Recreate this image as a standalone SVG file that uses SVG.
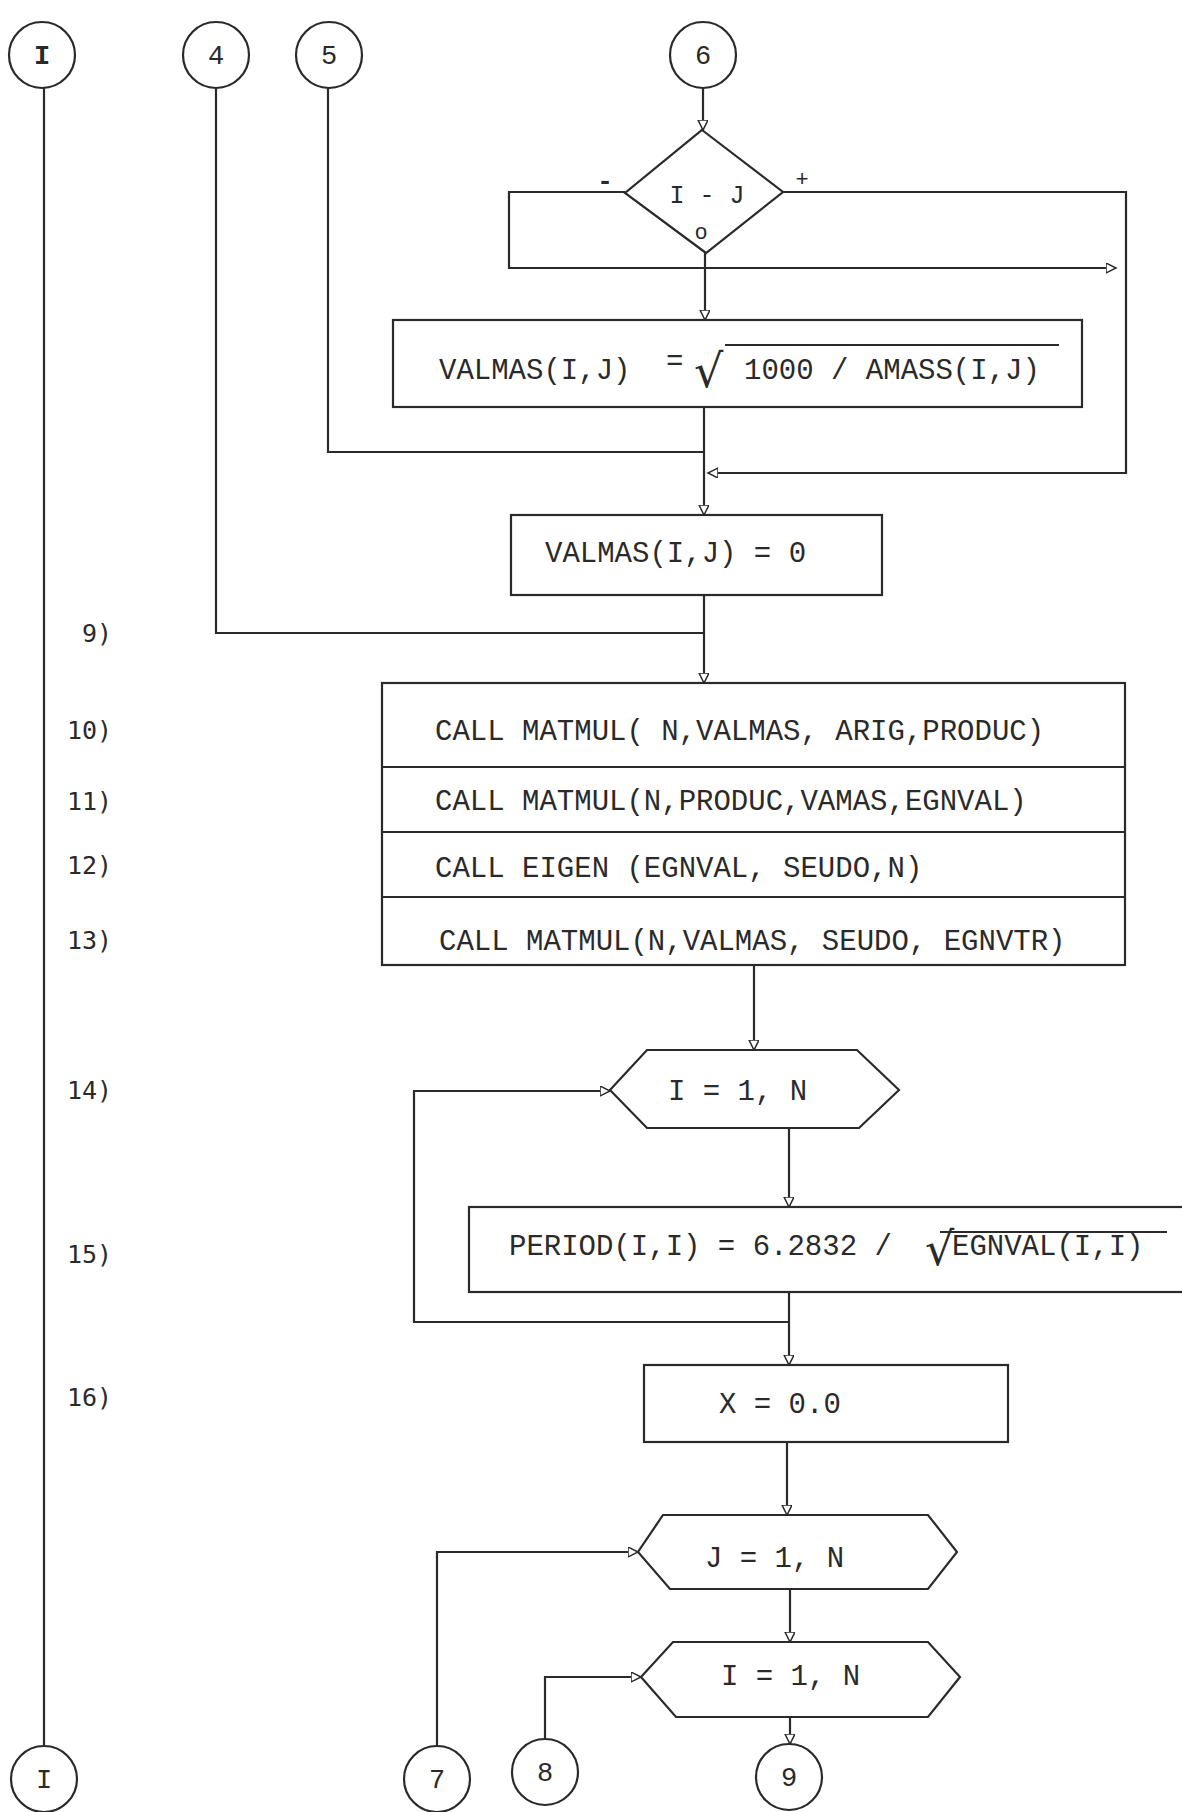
<svg xmlns="http://www.w3.org/2000/svg" width="1182" height="1812" viewBox="0 0 1182 1812">
<style>
.s{fill:none;stroke:#2a2a2a;stroke-width:2.2}
.n{fill:#fff;stroke:#2a2a2a;stroke-width:2.2}
.t{font-family:"Liberation Mono","DejaVu Sans Mono",monospace;font-size:29px;fill:#2a2a2a}
.l{font-family:"DejaVu Sans Mono","Liberation Mono",monospace;font-size:25px;fill:#2a2a2a}
.c{font-family:"Liberation Mono","DejaVu Sans Mono",monospace;font-size:27px;fill:#2a2a2a;text-anchor:middle}
.r{font-family:"DejaVu Sans","Liberation Sans",sans-serif;font-size:46px;fill:#2a2a2a}
</style>
<defs>
<marker id="a" markerWidth="12" markerHeight="12" refX="10" refY="5" orient="auto" markerUnits="userSpaceOnUse">
<path d="M0,0 L10,5 L0,10 z" fill="#fff" stroke="#2a2a2a" stroke-width="1.5"/>
</marker>
</defs>
<rect width="1182" height="1812" fill="#fff"/>

<g id="connectors">
<path class="s" d="M44,88 V1746"/>
<path class="s" d="M216,88 V633 H704"/>
<path class="s" d="M328,88 V452 H704"/>
<path class="s" d="M703,88 V130" marker-end="url(#a)"/>
<path class="s" d="M625,192 H509 V268 H1116" marker-end="url(#a)"/>
<path class="s" d="M783,192 H1126 V473 H708" marker-end="url(#a)"/>
<path class="s" d="M705,253 V320" marker-end="url(#a)"/>
<path class="s" d="M704,407 V515" marker-end="url(#a)"/>
<path class="s" d="M704,595 V683" marker-end="url(#a)"/>
<path class="s" d="M754,965 V1050" marker-end="url(#a)"/>
<path class="s" d="M789,1128 V1207" marker-end="url(#a)"/>
<path class="s" d="M789,1292 V1365" marker-end="url(#a)"/>
<path class="s" d="M789,1322 H414 V1091 H610" marker-end="url(#a)"/>
<path class="s" d="M787,1442 V1515" marker-end="url(#a)"/>
<path class="s" d="M790,1589 V1642" marker-end="url(#a)"/>
<path class="s" d="M790,1717 V1744" marker-end="url(#a)"/>
<path class="s" d="M437,1746 V1552 H638" marker-end="url(#a)"/>
<path class="s" d="M545,1739 V1677 H641" marker-end="url(#a)"/>
</g>

<g id="labels">
<text class="l" x="82" y="642">9)</text>
<text class="l" x="67" y="739">10)</text>
<text class="l" x="67" y="810">11)</text>
<text class="l" x="67" y="874">12)</text>
<text class="l" x="67" y="949">13)</text>
<text class="l" x="67" y="1099">14)</text>
<text class="l" x="67" y="1263">15)</text>
<text class="l" x="67" y="1406">16)</text>
</g>

<g id="conn-I-top"><circle class="n" cx="42" cy="55" r="33"/><text class="c" x="42" y="64" font-weight="bold">I</text></g>
<g id="conn-4"><circle class="n" cx="216" cy="55" r="33"/><text class="c" x="216" y="64">4</text></g>
<g id="conn-5"><circle class="n" cx="329" cy="55" r="33"/><text class="c" x="329" y="64">5</text></g>
<g id="conn-6"><circle class="n" cx="703" cy="55" r="33"/><text class="c" x="703" y="64">6</text></g>

<g id="decision">
<polygon class="n" points="702,130 783,192 706,253 625,193"/>
<text class="c" x="707" y="203" style="font-size:25px">I - J</text>
<text class="c" x="701" y="239" style="font-size:22px">o</text>
<text class="c" x="605" y="189" style="font-size:26px;font-weight:bold">-</text>
<text class="c" x="802" y="186" style="font-size:22px">+</text>
</g>

<g id="box-valmas-sqrt">
<rect class="n" x="393" y="320" width="689" height="87"/>
<text class="t" x="439" y="379">VALMAS(I,J)</text>
<text class="t" x="666" y="370">=</text>
<text class="r" x="694" y="387">√</text>
<line class="s" x1="725" y1="345" x2="1059" y2="345"/>
<text class="t" x="744" y="379">1000 / AMASS(I,J)</text>
</g>

<g id="box-valmas-zero">
<rect class="n" x="511" y="515" width="371" height="80"/>
<text class="t" x="545" y="562">VALMAS(I,J) = 0</text>
</g>

<g id="box-calls">
<rect class="n" x="382" y="683" width="743" height="282"/>
<line class="s" x1="382" y1="767" x2="1125" y2="767"/>
<line class="s" x1="382" y1="832" x2="1125" y2="832"/>
<line class="s" x1="382" y1="897" x2="1125" y2="897"/>
<text class="t" x="435" y="740">CALL MATMUL( N,VALMAS, ARIG,PRODUC)</text>
<text class="t" x="435" y="810">CALL MATMUL(N,PRODUC,VAMAS,EGNVAL)</text>
<text class="t" x="435" y="877">CALL EIGEN (EGNVAL, SEUDO,N)</text>
<text class="t" x="439" y="950">CALL MATMUL(N,VALMAS, SEUDO, EGNVTR)</text>
</g>

<g id="loop-I-1">
<polygon class="n" points="647,1050 857,1050 899,1090 859,1128 647,1128 610,1090"/>
<text class="t" x="668" y="1100">I = 1, N</text>
</g>

<g id="box-period">
<rect class="n" x="469" y="1207" width="730" height="85"/>
<text class="t" x="509" y="1255">PERIOD(I,I) = 6.2832 /</text>
<text class="r" x="925" y="1265">√</text>
<line class="s" x1="940" y1="1232" x2="1167" y2="1232"/>
<text class="t" x="952" y="1255">EGNVAL(I,I)</text>
</g>

<g id="box-x">
<rect class="n" x="644" y="1365" width="364" height="77"/>
<text class="t" x="719" y="1413">X = 0.0</text>
</g>

<g id="loop-J">
<polygon class="n" points="663,1515 928,1515 957,1552 928,1589 670,1589 638,1552"/>
<text class="t" x="705" y="1567">J = 1, N</text>
</g>

<g id="loop-I-2">
<polygon class="n" points="673,1642 928,1642 960,1677 928,1717 676,1717 641,1677"/>
<text class="t" x="721" y="1685">I = 1, N</text>
</g>

<g id="conn-I-bottom"><circle class="n" cx="44" cy="1779" r="33"/><text class="c" x="44" y="1788">I</text></g>
<g id="conn-7"><circle class="n" cx="437" cy="1779" r="33"/><text class="c" x="437" y="1788">7</text></g>
<g id="conn-8"><circle class="n" cx="545" cy="1772" r="33"/><text class="c" x="545" y="1781">8</text></g>
<g id="conn-9"><circle class="n" cx="789" cy="1777" r="33"/><text class="c" x="789" y="1786">9</text></g>
</svg>
